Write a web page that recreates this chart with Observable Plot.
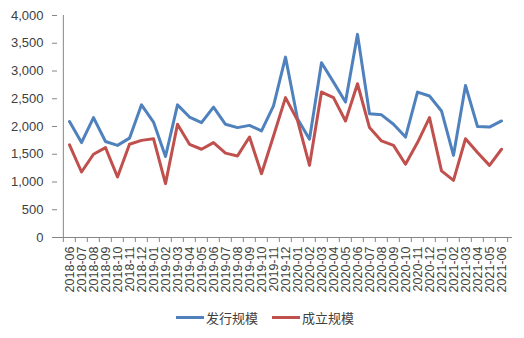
<!DOCTYPE html>
<html><head><meta charset="utf-8">
<script src="https://cdn.jsdelivr.net/npm/d3@7"></script>
<script src="https://cdn.jsdelivr.net/npm/@observablehq/plot@0.6"></script>
<style>
body{margin:0;background:#fff;}
#chart{width:524px;height:338px;position:relative;}
.legend{display:flex;justify-content:center;align-items:center;height:38px;padding-left:6px;box-sizing:border-box;padding-bottom:4px;
 font-family:"Noto Sans CJK SC","Noto Sans",sans-serif;font-size:13px;color:#404040;}
.item{display:flex;align-items:center;margin:0 7px;}
.sw{display:inline-block;width:28px;height:3px;margin-right:2px;}
</style></head><body><div id="chart"></div><script>
const months = ["2018-06","2018-07","2018-08","2018-09","2018-10","2018-11","2018-12",
"2019-01","2019-02","2019-03","2019-04","2019-05","2019-06","2019-07","2019-08","2019-09","2019-10","2019-11","2019-12",
"2020-01","2020-02","2020-03","2020-04","2020-05","2020-06","2020-07","2020-08","2020-09","2020-10","2020-11","2020-12",
"2021-01","2021-02","2021-03","2021-04","2021-05","2021-06"];
const issueScale = [2090,1710,2160,1730,1660,1790,2390,
2080,1460,2390,2170,2070,2350,2040,1980,2020,1920,2370,3250,
2140,1770,3150,2800,2440,3660,2230,2210,2040,1810,2620,2550,
2280,1480,2740,2000,1990,2100];
const foundScale = [1670,1180,1500,1620,1090,1680,1750,
1780,970,2040,1680,1590,1710,1520,1470,1810,1150,1830,2520,
2110,1300,2620,2520,2100,2770,1980,1740,1660,1320,1710,2160,
1200,1030,1780,1530,1300,1590];
const yTicks = [0,500,1000,1500,2000,2500,3000,3500,4000];
const seriesNames = ["发行规模","成立规模"];
const seriesColors = ["#4F81BD","#C0504D"];

const data = months.flatMap((m,i)=>[
  {month:m, value:issueScale[i], series:seriesNames[0]},
  {month:m, value:foundScale[i], series:seriesNames[1]}
]);

const W=524,H=300,mL=57,mR=12,mT=15,mB=63;
const step=(W-mL-mR)/months.length;
const frameH=H-mT-mB;
const axisGray="#868686";

const plot = Plot.plot({
  width:W,height:H,marginLeft:mL,marginRight:mR,marginTop:mT,marginBottom:mB,
  style:{fontFamily:"'Liberation Sans', Arial, sans-serif",background:"#fff",color:"#404040"},
  x:{type:"point",domain:months,padding:0.5,label:null},
  y:{domain:[0,4000],label:null},
  color:{domain:seriesNames,range:seriesColors},
  marks:[
    Plot.axisY({ticks:yTicks,tickFormat:d3.format(","),tickSize:5,tickPadding:9,fontSize:13,stroke:axisGray,fill:"#404040",label:null}),
    Plot.axisX({tickSize:0,tickRotate:-90,tickPadding:9,fontSize:12.5,fill:"#404040",label:null}),
    Plot.ruleY([0],{stroke:axisGray}),
    Plot.ruleX([months[0]],{x:d=>d,dx:-step/2,stroke:axisGray}),
    Plot.tickX(months,{x:d=>d,dx:-step/2,dy:5,insetTop:frameH-5,stroke:axisGray}),
    Plot.tickX([months[months.length-1]],{x:d=>d,dx:step/2,dy:5,insetTop:frameH-5,stroke:axisGray}),
    Plot.line(data,{x:"month",y:"value",z:"series",stroke:"series",strokeWidth:3})
  ]
});
const chart=document.getElementById("chart");
chart.appendChild(plot);
const legend=document.createElement("div");
legend.className="legend";
seriesNames.forEach((n,i)=>{
  const it=document.createElement("span");it.className="item";
  const sw=document.createElement("span");sw.className="sw";sw.style.background=seriesColors[i];
  it.appendChild(sw);it.appendChild(document.createTextNode(n));
  legend.appendChild(it);
});
chart.appendChild(legend);
</script></body></html>
